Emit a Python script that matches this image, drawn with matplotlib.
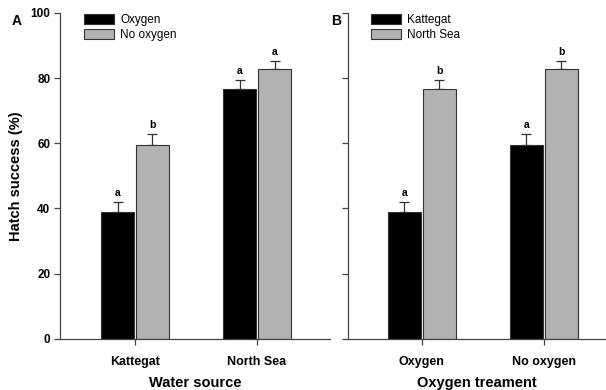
import numpy as np
import matplotlib.pyplot as plt

plt.rcParams['font.family'] = ['Liberation Sans', 'DejaVu Sans']

# Hatch success (%) with SE, by water source and oxygen treatment
sources = ['Kattegat', 'North Sea']
treatments = ['Oxygen', 'No oxygen']
mean_oxygen = [39.0, 76.7]      # Kattegat, North Sea
mean_no_oxygen = [59.5, 82.9]
se_oxygen = [3.0, 2.8]
se_no_oxygen = [3.5, 2.3]
letters_a = [['a', 'a'], ['b', 'a']]   # [oxygen, no oxygen] per source
letters_b = [['a', 'a'], ['b', 'b']]   # [Kattegat, North Sea] per treatment

fig = plt.figure(figsize=(6.06, 3.9), dpi=100)
ax1 = fig.add_axes([0.099, 0.131, 0.446, 0.836])
ax2 = fig.add_axes([0.574, 0.131, 0.426, 0.836])

w = 0.27
gap = 0.016


def draw_panel(ax, means, errs, letters, labels, names, xlim):
    x = np.arange(len(labels))
    colors = ['black', '#b2b2b2']
    for i in range(2):
        pos = x + (i - 0.5) * (w + gap)
        ax.bar(pos, means[i], w, color=colors[i], edgecolor='#333333',
               linewidth=0.8, label=names[i], zorder=2)
        ax.errorbar(pos, means[i], yerr=[np.zeros(len(x)), errs[i]], fmt='none',
                    ecolor='#333333', elinewidth=0.9, capsize=3.5, capthick=0.9,
                    zorder=1)
        for p, m, e, t in zip(pos, means[i], errs[i], letters[i]):
            ax.text(p, m + e + 1.2, t, ha='center', va='bottom',
                    fontsize=7.5, fontweight='bold')
    ax.set_xlim(*xlim)
    ax.set_ylim(0, 100)
    ax.set_xticks(x)
    ax.set_xticklabels(labels, fontsize=9, fontweight='bold')
    ax.set_yticks(range(0, 101, 20))
    for s in ['top', 'right']:
        ax.spines[s].set_visible(False)
    for s in ['left', 'bottom']:
        ax.spines[s].set_color('#444444')
        ax.spines[s].set_linewidth(0.9)
    ax.tick_params(axis='both', direction='out', length=4, width=0.9,
                   color='#444444', pad=3)
    ax.tick_params(axis='x', pad=8)
    ax.legend(loc='upper left', bbox_to_anchor=(0.07, 1.01), frameon=False,
              fontsize=8.5, handlelength=2.6, handleheight=0.9,
              labelspacing=0.25, handletextpad=0.5, borderaxespad=0)


draw_panel(ax1, [mean_oxygen, mean_no_oxygen], [se_oxygen, se_no_oxygen],
           letters_a, sources, treatments, (-0.615, 1.6))
ax1.set_yticklabels([str(v) for v in range(0, 101, 20)], fontsize=8.5,
                    fontweight='bold')
ax1.set_ylabel('Hatch success (%)', fontsize=10.5, fontweight='bold', labelpad=5)
ax1.set_xlabel('Water source', fontsize=10.5, fontweight='bold', labelpad=6)

# Same data regrouped by oxygen treatment
kattegat = [mean_oxygen[0], mean_no_oxygen[0]]
north_sea = [mean_oxygen[1], mean_no_oxygen[1]]
se_kattegat = [se_oxygen[0], se_no_oxygen[0]]
se_north_sea = [se_oxygen[1], se_no_oxygen[1]]
draw_panel(ax2, [kattegat, north_sea], [se_kattegat, se_north_sea],
           letters_b, treatments, sources, (-0.605, 1.51))
ax2.set_yticklabels([])
ax2.set_xlabel('Oxygen treament', fontsize=10.5, fontweight='bold', labelpad=6)

fig.text(0.02, 0.935, 'A', fontsize=10, fontweight='bold')
fig.text(0.547, 0.935, 'B', fontsize=10, fontweight='bold')

fig.savefig('out.png', dpi=100)
